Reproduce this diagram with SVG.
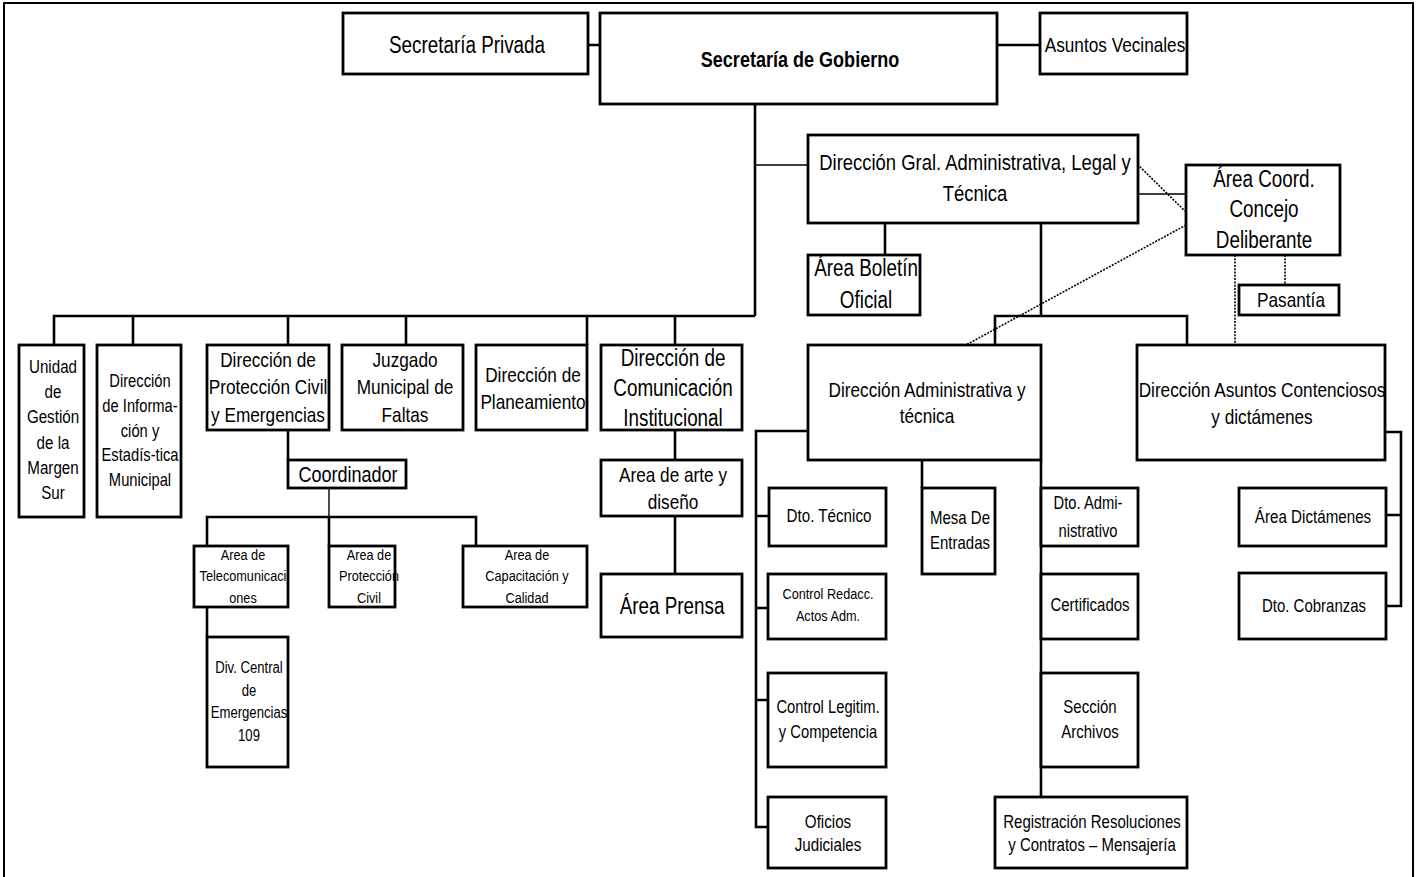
<svg xmlns="http://www.w3.org/2000/svg" width="1419" height="877" viewBox="0 0 1419 877">
<style>
.b{fill:#fff;stroke:#000;stroke-width:2.8}
.c{fill:none;stroke:#000;stroke-width:2.6}
.n{fill:none;stroke:#000;stroke-width:1.4}
.d{fill:none;stroke:#000;stroke-width:1.6;stroke-dasharray:2 1.3}
.t{font-family:"Liberation Sans",Arial,sans-serif;text-anchor:middle;fill:#000}
.bold{font-weight:bold}
</style>
<rect x="4" y="3" width="1409" height="910" fill="#fff" stroke="#000" stroke-width="2"/>
<g id="connectors">
<path class="c" d="M588 45H600M997 45H1040M755 104V316"/>
<path class="n" d="M755 165H808M1138 194H1186"/>
<path class="d" d="M1135 162L1186 212M1186 225L966 345M1235 255V345M1285 255V285"/>
<path class="c" d="M885 223V255"/>
<path class="c" d="M1041 223V316M995 345V316H1187V345"/>
<path class="c" d="M54 345V316H755M133 316V345M288 316V345M406 316V345M587 316V345M675 316V345"/>
<path class="c" d="M675 430V460M675 516V574M288 430V460"/>
<path class="n" d="M329 488V517"/>
<path class="c" d="M207 546V517H476V546M329 517V546M207 607V637"/>
<path class="c" d="M808 431H756V827H768M756 516H769M756 608H768M756 700H768"/>
<path class="c" d="M922 460V488M1041 460V797"/>
<path class="c" d="M1385 432H1401V606H1386M1401 515H1386"/>
</g>
<g id="secPrivada"><rect class="b" x="343" y="13" width="245" height="61"/>
<text class="t" font-size="23" transform="translate(467,53) scale(.82,1)">Secretaría Privada</text></g>
<g id="secGobierno"><rect class="b" x="600" y="13" width="397" height="91"/>
<text class="t bold" font-size="22" transform="translate(800,67) scale(.82,1)">Secretaría de Gobierno</text></g>
<g id="asuntosVecinales"><rect class="b" x="1040" y="13" width="147" height="61"/>
<text class="t" font-size="21" transform="translate(1115,52) scale(.82,1)">Asuntos Vecinales</text></g>
<g id="dirGral"><rect class="b" x="808" y="135" width="330" height="88"/>
<text class="t" font-size="22.5" transform="translate(975,170) scale(.82,1)"><tspan x="0">Dirección Gral. Administrativa, Legal y</tspan><tspan x="0" dy="31">Técnica</tspan></text></g>
<g id="areaCoord"><rect class="b" x="1186" y="165" width="154" height="90"/>
<text class="t" font-size="23" transform="translate(1264,187) scale(.82,1)"><tspan x="0">Área Coord.</tspan><tspan x="0" dy="30.5">Concejo</tspan><tspan x="0" dy="30.5">Deliberante</tspan></text></g>
<g id="boletin"><rect class="b" x="808" y="255" width="112" height="60"/>
<text class="t" font-size="23" transform="translate(866,276) scale(.82,1)"><tspan x="0">Área Boletín</tspan><tspan x="0" dy="32">Oficial</tspan></text></g>
<g id="pasantia"><rect class="b" x="1239" y="285" width="100" height="30"/>
<text class="t" font-size="21" transform="translate(1291,307) scale(.82,1)">Pasantía</text></g>
<g id="unidad"><rect class="b" x="19" y="345" width="65" height="172"/>
<text class="t" font-size="18.5" transform="translate(53,373) scale(.82,1)"><tspan x="0">Unidad</tspan><tspan x="0" dy="25.2">de</tspan><tspan x="0" dy="25.2">Gestión</tspan><tspan x="0" dy="25.2">de la</tspan><tspan x="0" dy="25.2">Margen</tspan><tspan x="0" dy="25.2">Sur</tspan></text></g>
<g id="dirInfo"><rect class="b" x="97" y="345" width="84" height="172"/>
<text class="t" font-size="18" transform="translate(140,387) scale(.82,1)"><tspan x="0">Dirección</tspan><tspan x="0" dy="24.8">de Informa-</tspan><tspan x="0" dy="24.8">ción y</tspan><tspan x="0" dy="24.8">Estadís-tica</tspan><tspan x="0" dy="24.8">Municipal</tspan></text></g>
<g id="dirProteccion"><rect class="b" x="207" y="345" width="122" height="85"/>
<text class="t" font-size="21" transform="translate(268,367) scale(.82,1)"><tspan x="0">Dirección de</tspan><tspan x="0" dy="27.5">Protección Civil</tspan><tspan x="0" dy="27.5">y Emergencias</tspan></text></g>
<g id="juzgado"><rect class="b" x="342" y="345" width="121" height="85"/>
<text class="t" font-size="21" transform="translate(405,367) scale(.82,1)"><tspan x="0">Juzgado</tspan><tspan x="0" dy="27.5">Municipal de</tspan><tspan x="0" dy="27.5">Faltas</tspan></text></g>
<g id="planeamiento"><rect class="b" x="476" y="345" width="111" height="85"/>
<text class="t" font-size="21" transform="translate(533,382) scale(.82,1)"><tspan x="0">Dirección de</tspan><tspan x="0" dy="27">Planeamiento</tspan></text></g>
<g id="dirComunicacion"><rect class="b" x="601" y="345" width="141" height="85"/>
<text class="t" font-size="23" transform="translate(673,366) scale(.82,1)"><tspan x="0">Dirección de</tspan><tspan x="0" dy="30">Comunicación</tspan><tspan x="0" dy="30">Institucional</tspan></text></g>
<g id="arte"><rect class="b" x="601" y="460" width="141" height="56"/>
<text class="t" font-size="21" transform="translate(673,482) scale(.82,1)"><tspan x="0">Area de arte y</tspan><tspan x="0" dy="27">diseño</tspan></text></g>
<g id="prensa"><rect class="b" x="601" y="574" width="141" height="63"/>
<text class="t" font-size="23" transform="translate(672,614) scale(.82,1)">Área Prensa</text></g>
<g id="coordinador"><rect class="b" x="288" y="460" width="118" height="28"/>
<text class="t" font-size="22" transform="translate(348,482) scale(.82,1)">Coordinador</text></g>
<g id="telecom"><rect class="b" x="194" y="546" width="94" height="61"/>
<text class="t" font-size="15.5" transform="translate(243,560) scale(.82,1)"><tspan x="0">Area de</tspan><tspan x="0" dy="21.5">Telecomunicaci</tspan><tspan x="0" dy="21.5">ones</tspan></text></g>
<g id="proteccionCivil"><rect class="b" x="329" y="546" width="66" height="61"/>
<text class="t" font-size="15.5" transform="translate(369,560) scale(.82,1)"><tspan x="0">Area de</tspan><tspan x="0" dy="21.5">Protección</tspan><tspan x="0" dy="21.5">Civil</tspan></text></g>
<g id="capacitacion"><rect class="b" x="463" y="546" width="124" height="61"/>
<text class="t" font-size="15.5" transform="translate(527,560) scale(.82,1)"><tspan x="0">Area de</tspan><tspan x="0" dy="21.5">Capacitación y</tspan><tspan x="0" dy="21.5">Calidad</tspan></text></g>
<g id="divCentral"><rect class="b" x="207" y="637" width="81" height="130"/>
<text class="t" font-size="16" transform="translate(249,673) scale(.82,1)"><tspan x="0">Div. Central</tspan><tspan x="0" dy="22.7">de</tspan><tspan x="0" dy="22.7">Emergencias</tspan><tspan x="0" dy="22.7">109</tspan></text></g>
<g id="dirAdmin"><rect class="b" x="808" y="345" width="233" height="115"/>
<text class="t" font-size="21" transform="translate(927,397) scale(.82,1)"><tspan x="0">Dirección Administrativa y</tspan><tspan x="0" dy="26">técnica</tspan></text></g>
<g id="dirAsuntos"><rect class="b" x="1137" y="345" width="248" height="115"/>
<text class="t" font-size="21" transform="translate(1262,397) scale(.82,1)"><tspan x="0">Dirección Asuntos Contenciosos</tspan><tspan x="0" dy="27">y dictámenes</tspan></text></g>
<g id="dtoTecnico"><rect class="b" x="769" y="488" width="117" height="58"/>
<text class="t" font-size="18.5" transform="translate(829,522) scale(.82,1)">Dto. Técnico</text></g>
<g id="mesa"><rect class="b" x="922" y="488" width="73" height="86"/>
<text class="t" font-size="18.3" transform="translate(960,524) scale(.82,1)"><tspan x="0">Mesa De</tspan><tspan x="0" dy="25">Entradas</tspan></text></g>
<g id="dtoAdmin"><rect class="b" x="1041" y="488" width="97" height="58"/>
<text class="t" font-size="18" transform="translate(1088,509) scale(.82,1)"><tspan x="0">Dto. Admi-</tspan><tspan x="0" dy="28">nistrativo</tspan></text></g>
<g id="ctrlRedacc"><rect class="b" x="768" y="574" width="118" height="65"/>
<text class="t" font-size="15.5" transform="translate(828,599) scale(.82,1)"><tspan x="0">Control Redacc.</tspan><tspan x="0" dy="22">Actos Adm.</tspan></text></g>
<g id="ctrlLegitim"><rect class="b" x="768" y="673" width="118" height="94"/>
<text class="t" font-size="18" transform="translate(828,713) scale(.82,1)"><tspan x="0">Control Legitim.</tspan><tspan x="0" dy="25">y Competencia</tspan></text></g>
<g id="oficios"><rect class="b" x="768" y="797" width="118" height="71"/>
<text class="t" font-size="18.5" transform="translate(828,828) scale(.82,1)"><tspan x="0">Oficios</tspan><tspan x="0" dy="23">Judiciales</tspan></text></g>
<g id="certificados"><rect class="b" x="1041" y="574" width="97" height="65"/>
<text class="t" font-size="18.3" transform="translate(1090,611) scale(.82,1)">Certificados</text></g>
<g id="seccion"><rect class="b" x="1041" y="673" width="97" height="94"/>
<text class="t" font-size="18.3" transform="translate(1090,713) scale(.82,1)"><tspan x="0">Sección</tspan><tspan x="0" dy="25">Archivos</tspan></text></g>
<g id="registracion"><rect class="b" x="995" y="797" width="192" height="71"/>
<text class="t" font-size="18.3" transform="translate(1092,828) scale(.82,1)"><tspan x="0">Registración Resoluciones</tspan><tspan x="0" dy="23">y Contratos – Mensajería</tspan></text></g>
<g id="areaDictamenes"><rect class="b" x="1239" y="488" width="147" height="58"/>
<text class="t" font-size="18.5" transform="translate(1313,523) scale(.82,1)">Área Dictámenes</text></g>
<g id="cobranzas"><rect class="b" x="1239" y="573" width="147" height="66"/>
<text class="t" font-size="18.3" transform="translate(1314,612) scale(.82,1)">Dto. Cobranzas</text></g>
</svg>
